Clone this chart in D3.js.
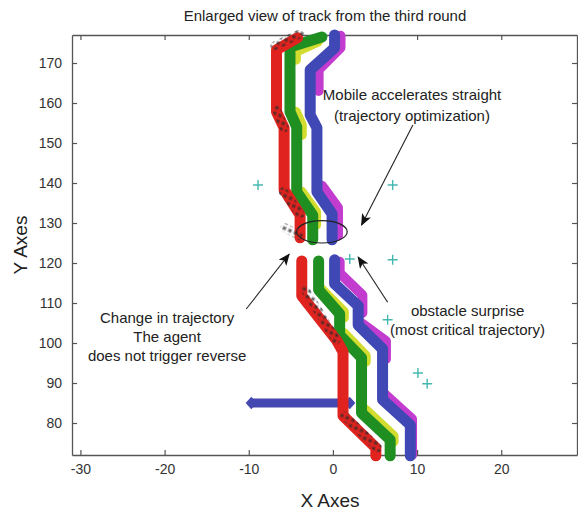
<!DOCTYPE html>
<html><head><meta charset="utf-8">
<script src="https://cdn.jsdelivr.net/npm/d3@7"></script>
<style>
body{margin:0;background:#fff;}
svg{display:block;font-family:"Liberation Sans",Arial,sans-serif;}
</style></head><body>
<svg id="chart" width="578" height="517"></svg>
<script>
// axis ticks
const xTicks = [-30, -20, -10, 0, 10, 20];
const yTicks = [80, 90, 100, 110, 120, 130, 140, 150, 160, 170];

// agent trajectories, [x, y] vertices
const redUpper   = [[-4.2,176.3],[-6.7,173.3],[-6.7,157.8],[-5.8,153.8],[-5.8,138.3],[-3.9,132],[-3.9,126.3]];
const greenUpper = [[-1.3,176.5],[-5.1,174],[-5.1,157.8],[-4.3,154],[-4.3,137.8],[-2.4,132],[-2.4,125.8]];
const blueUpper  = [[0.2,177],[0.2,173.8],[-2.7,168.3],[-2.7,157],[-1.9,153.8],[-1.9,137.8],[-0.1,132.3],[-0.1,125.8]];
const redLower   = [[-3.7,120.5],[-3.7,111.8],[0.4,100.8],[1.2,97.8],[1.2,81.8],[5.1,73.8],[5.1,71.8]];
const greenLower = [[-1.7,120.5],[-1.7,113.3],[0.8,107.3],[0.8,102],[3.4,96.3],[3.4,82.5],[6.8,75.8],[6.8,71.8]];
const blueLower  = [[0.2,120.8],[0.2,114.8],[3.0,109.3],[3.0,104.5],[5.9,98.5],[5.9,85.8],[9.2,79.5],[9.2,71.8]];

// secondary agents drawn as marker trails
const magentaTrails = [
  [[0.9,176.8],[0.9,173.8],[-1.7,168.3],[-1.7,163]],
  [[-1.3,139.3],[0.6,133.8],[0.6,126.8]],
  [[0.8,120.3],[0.8,117.5],[3.5,112],[3.5,107.5]],
  [[3.5,104.8],[6.3,100.5],[6.3,96]],
  [[6.0,87.5],[9.4,81],[9.4,72]]
];
const yellowTrails = [
  [[-1.8,175.3],[-4.4,172.8],[-4.4,170.8]],
  [[-4.4,157.8],[-3.7,154.5],[-3.7,152]],
  [[-3.7,137.8],[-2.0,132.8],[-2.0,129.5]],
  [[-1.3,113.3],[1.3,107.8],[1.3,106.3]],
  [[1.3,102.5],[3.9,96.8],[3.9,95.3]],
  [[3.9,83.3],[7.2,76.8],[7.2,75.3]]
];
const darkTrails = [
  [[-3.9,177.3],[-6.9,174.3]],
  [[-6.7,158.3],[-5.8,153.8]],
  [[-5.9,137.8],[-3.9,132.3]],
  [[-5.7,128.8],[-3.9,126.8]],
  [[-3.3,113.3],[0.4,100.8]],
  [[1.4,81.8],[5.3,73.8]]
];

// obstacle and goal markers
const obstacle = [[-9.7,85],[2.0,85]];
const goals = [[-8.9,139.5],[7.1,139.5],[2.0,121],[7.1,120.8],[6.5,105.8],[10.1,92.5],[11.2,89.8]];

// annotations
const arrows = [
  {from:[9.5,154.5], to:[3.4,129.5]},
  {from:[-10.3,108.5], to:[-5.2,122.2]},
  {from:[6.5,110.2], to:[3.0,121.5]}
];
const notes = [
  {x:9.4, y:160.75, text:"Mobile accelerates straight"},
  {x:9.4, y:155.6, text:"(trajectory optimization)"},
  {x:-19.7, y:105, text:"Change in trajectory"},
  {x:-19.7, y:100.2, text:"The agent"},
  {x:-19.7, y:95.4, text:"does not trigger reverse"},
  {x:16.0, y:106.8, text:"obstacle surprise"},
  {x:16.0, y:102, text:"(most critical trajectory)"}
];
const zone = {cx:-1.3, cy:127.8, rx:3.0, ry:2.8};

const svg = d3.select("#chart");
const x = d3.scaleLinear().domain([-31, 29]).range([72, 577]);
const y = d3.scaleLinear().domain([72, 177]).range([455, 35]);
const line = d3.line().x(d => x(d[0])).y(d => y(d[1]));

const defs = svg.append("defs");
// asterisk texture for the dark marker clouds
const c = 3, a = 2.2;
defs.append("pattern").attr("id", "starPat").attr("patternUnits", "userSpaceOnUse")
  .attr("width", 6).attr("height", 6).attr("patternTransform", "rotate(23)")
  .append("path")
  .attr("d", `M${c-a},${c}H${c+a}M${c},${c-a}V${c+a}M${c-a*0.7},${c-a*0.7}L${c+a*0.7},${c+a*0.7}M${c-a*0.7},${c+a*0.7}L${c+a*0.7},${c-a*0.7}`)
  .attr("stroke", "#2a2a2a").attr("stroke-width", 1).attr("fill", "none");

defs.append("marker").attr("id", "head").attr("viewBox", "0 0 12 10")
  .attr("refX", 11).attr("refY", 5).attr("markerWidth", 12).attr("markerHeight", 10)
  .attr("markerUnits", "userSpaceOnUse").attr("orient", "auto")
  .append("path").attr("d", "M0,0L12,5L0,10L3,5Z").attr("fill", "#111");

// frame with inward ticks
const axisColor = "#555";
function styleAxis(g) {
  g.select(".domain").attr("stroke", axisColor).attr("stroke-width", 1.3);
  g.selectAll(".tick line").attr("stroke", axisColor).attr("stroke-width", 1.2);
  g.selectAll(".tick text").attr("fill", "#333").style("font-size", "14px")
    .style("font-family", "'Liberation Sans', Arial, sans-serif");
}
svg.append("g").attr("transform", "translate(0,455)")
  .call(d3.axisBottom(x).tickValues(xTicks).tickSizeInner(-5).tickSizeOuter(0).tickPadding(9).tickFormat(d => String(d)))
  .call(styleAxis);
svg.append("g").attr("transform", "translate(0,35)")
  .call(d3.axisTop(x).tickValues(xTicks).tickSizeInner(-5).tickSizeOuter(0).tickFormat(""))
  .call(styleAxis);
svg.append("g").attr("transform", "translate(72,0)")
  .call(d3.axisLeft(y).tickValues(yTicks).tickSizeInner(-5).tickSizeOuter(0).tickPadding(10).tickFormat(d => String(d)))
  .call(styleAxis);
svg.append("g").attr("transform", "translate(577,0)")
  .call(d3.axisRight(y).tickValues(yTicks).tickSizeInner(-5).tickSizeOuter(0).tickFormat(""))
  .call(styleAxis);

const plot = svg.append("g");

// obstacle bar with tapered ends
plot.append("path").datum(obstacle).attr("d", line).attr("fill", "none")
  .attr("stroke", "#4548b0").attr("stroke-width", 9);
plot.selectAll(".obsEnd").data(obstacle).join("path")
  .attr("transform", d => `translate(${x(d[0])},${y(d[1])}) scale(1.25,0.8)`)
  .attr("d", d3.symbol(d3.symbolDiamond, 70)).attr("fill", "#4548b0");

function trail(data, stroke, width, opacity) {
  plot.selectAll(null).data(data).join("path").attr("d", line).attr("fill", "none")
    .attr("stroke", stroke).attr("stroke-width", width).attr("stroke-opacity", opacity || 1)
    .attr("stroke-linejoin", "round").attr("stroke-linecap", "round");
}
trail(magentaTrails, "#c23ccf", 10);
trail([blueUpper, blueLower], "#3f48b4", 11);
trail(yellowTrails, "#d2dc2e", 10);
trail([greenUpper, greenLower], "#1f8f22", 11);
trail([redUpper, redLower], "#e0231e", 11);
trail(darkTrails, "url(#starPat)", 9, 0.75);

// goal markers
plot.selectAll(".goal").data(goals).join("path")
  .attr("transform", d => `translate(${x(d[0])},${y(d[1])})`)
  .attr("d", "M-5,0H5M0,-5V5").attr("stroke", "#45b8b0").attr("stroke-width", 1.4);

// annotations
plot.append("ellipse").attr("cx", x(zone.cx)).attr("cy", y(zone.cy))
  .attr("rx", x(zone.cx + zone.rx) - x(zone.cx)).attr("ry", y(zone.cy - zone.ry) - y(zone.cy))
  .attr("fill", "none").attr("stroke", "#222").attr("stroke-width", 1.2);
plot.selectAll(".arrow").data(arrows).join("line")
  .attr("x1", d => x(d.from[0])).attr("y1", d => y(d.from[1]))
  .attr("x2", d => x(d.to[0])).attr("y2", d => y(d.to[1]))
  .attr("stroke", "#222").attr("stroke-width", 1.1).attr("marker-end", "url(#head)");
plot.selectAll(".note").data(notes).join("text")
  .attr("x", d => x(d.x)).attr("y", d => y(d.y)).attr("text-anchor", "middle")
  .attr("fill", "#222").style("font-size", "15px").text(d => d.text);

// titles
svg.append("text").attr("x", 325).attr("y", 21).attr("text-anchor", "middle")
  .attr("fill", "#222").style("font-size", "15px").text("Enlarged view of track from the third round");
svg.append("text").attr("x", 330).attr("y", 507).attr("text-anchor", "middle")
  .attr("fill", "#222").style("font-size", "19px").text("X Axes");
svg.append("text").attr("transform", "translate(27,245) rotate(-90)").attr("text-anchor", "middle")
  .attr("fill", "#222").style("font-size", "19px").text("Y Axes");
</script>
</body></html>
